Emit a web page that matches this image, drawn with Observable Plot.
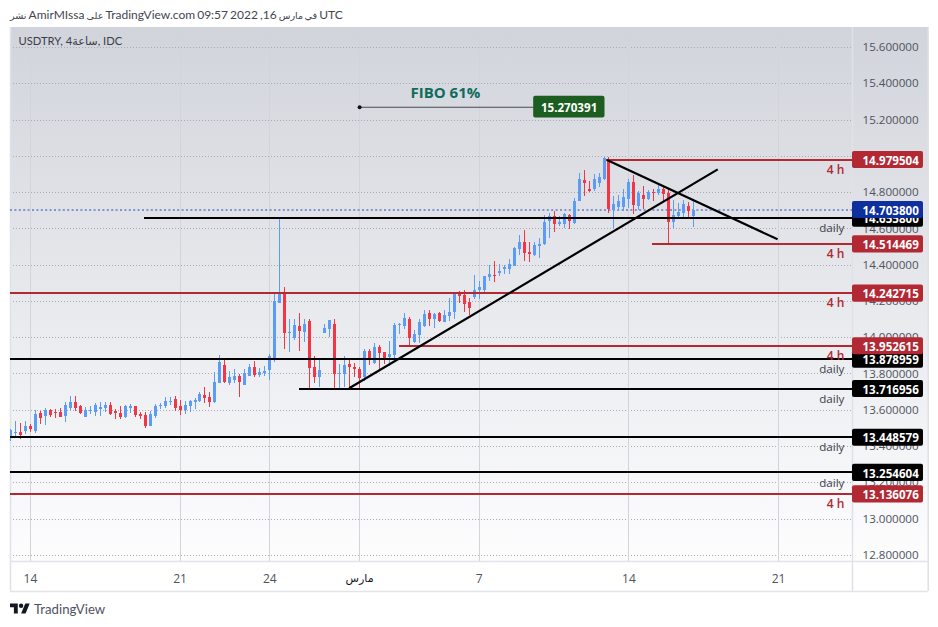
<!DOCTYPE html>
<html><head><meta charset="utf-8">
<script src="https://cdn.jsdelivr.net/npm/d3@7"></script>
<script src="https://cdn.jsdelivr.net/npm/@observablehq/plot@0.6"></script>
<style>
html,body{margin:0;padding:0;background:#fff;width:938px;height:627px;overflow:hidden;font-family:"Open Sans","DejaVu Sans",sans-serif}
#title{height:27px;line-height:29px;padding-left:10px;font-family:Lato,"DejaVu Sans",sans-serif;font-size:12px;word-spacing:-1px;color:#434651;white-space:nowrap;box-sizing:border-box}
#title span{font-size:9.6px}
#chart svg{display:block}
#foot{height:36px;padding-left:10px;display:flex;align-items:center;gap:4px;font-family:Lato,sans-serif;font-size:13.2px;color:#50535e}
</style></head><body>
<div id="title"><span>نشر</span> AmirMIssa <span>على</span> TradingView.com 09:57 2022 ,16 <span>في مارس</span> UTC</div>
<div id="chart"></div>
<div id="foot"><svg width="20" height="16" viewBox="0 0 36 28"><path fill="#131722" d="M14 22H7V11H0V4h14v18zM28 22h-8l7.5-18h8L28 22z"/><circle fill="#131722" cx="20" cy="8" r="4"/></svg><span>TradingView</span></div>
<script>
const firstIndex = -4;
const opens = [
13.453,13.473,13.479,13.485,13.512,13.485,13.584,13.567,13.600,13.589,13.589,13.567,13.611,13.644,13.622,13.562,13.595,13.589,13.606,13.611,
13.628,13.595,13.584,13.562,13.611,13.622,13.578,13.573,13.512,13.567,13.622,13.622,13.644,13.661,13.622,13.600,13.622,13.644,13.650,13.683,
13.672,13.644,13.749,13.848,13.749,13.766,13.788,13.738,13.788,13.837,13.793,13.804,13.821,
13.885,14.191,14.250,14.024,13.996,14.063,14.029,14.090,13.837,13.782,14.024,14.046,14.074,13.798,13.798,13.853,13.837,13.826,13.782,13.925,
13.859,13.947,13.919,13.892,13.903,14.068,14.063,14.101,13.974,14.013,14.063,14.134,14.101,14.134,14.085,14.118,14.140,14.250,14.233,14.195,
14.222,14.261,14.261,14.333,14.344,14.355,14.377,14.377,14.393,14.487,14.525,14.470,14.454,14.503,14.514,14.641,14.669,14.625,14.625,14.674,
14.630,14.751,14.867,14.818,14.818,14.851,14.873,14.983,14.702,14.718,14.718,14.762,14.856,14.724,14.785,14.762,14.801,14.796,14.818,14.796,
14.636,14.669,14.685,14.724,14.669];
const highs = [
13.494,13.536,13.527,13.540,13.523,13.600,13.595,13.611,13.606,13.606,13.611,13.644,13.677,13.677,13.628,13.617,13.622,13.639,13.644,13.644,
13.644,13.606,13.622,13.628,13.633,13.622,13.589,13.589,13.595,13.633,13.639,13.672,13.672,13.677,13.655,13.650,13.655,13.666,13.699,13.727,
13.699,13.810,13.903,13.881,13.815,13.826,13.799,13.826,13.854,13.870,13.832,13.843,13.909,
14.239,14.658,14.276,14.101,14.101,14.134,14.101,14.101,13.897,13.875,14.074,14.096,14.101,13.853,13.897,13.886,13.859,13.837,13.936,13.936,
13.969,13.958,13.919,13.980,14.079,14.079,14.134,14.112,14.040,14.101,14.151,14.151,14.134,14.140,14.151,14.217,14.244,14.255,14.261,14.217,
14.344,14.310,14.338,14.399,14.421,14.404,14.399,14.432,14.498,14.564,14.592,14.525,14.525,14.547,14.674,14.685,14.696,14.669,14.685,14.680,
14.768,14.906,14.922,14.862,14.900,14.906,14.994,14.994,14.779,14.785,14.818,14.873,14.895,14.807,14.834,14.812,14.818,14.840,14.834,14.818,
14.757,14.740,14.757,14.746,14.762];
const lows = [
13.426,13.453,13.440,13.468,13.479,13.473,13.523,13.518,13.562,13.556,13.562,13.534,13.600,13.595,13.578,13.562,13.578,13.567,13.567,13.589,
13.573,13.551,13.551,13.556,13.584,13.562,13.551,13.501,13.512,13.556,13.606,13.611,13.628,13.595,13.573,13.578,13.589,13.606,13.644,13.639,
13.617,13.639,13.749,13.749,13.738,13.749,13.672,13.738,13.788,13.782,13.782,13.788,13.766,
13.861,14.187,13.936,13.919,13.985,13.925,13.974,13.715,13.749,13.727,14.024,14.002,13.715,13.715,13.727,13.721,13.782,13.721,13.760,13.848,
13.853,13.815,13.853,13.842,13.875,14.018,14.046,13.958,13.969,13.969,14.057,14.063,14.052,14.085,14.085,14.090,14.101,14.189,14.140,14.123,
14.211,14.211,14.239,14.311,14.305,14.338,14.349,14.349,14.393,14.454,14.421,14.415,14.448,14.437,14.509,14.547,14.581,14.614,14.603,14.597,
14.625,14.751,14.779,14.801,14.807,14.829,14.867,14.685,14.603,14.696,14.696,14.713,14.680,14.702,14.707,14.757,14.751,14.785,14.751,14.509,
14.603,14.652,14.652,14.658,14.608];
const closes = [
13.486,13.479,13.459,13.512,13.496,13.578,13.556,13.600,13.573,13.584,13.562,13.628,13.644,13.611,13.584,13.600,13.600,13.628,13.617,13.628,
13.578,13.584,13.562,13.622,13.622,13.573,13.567,13.512,13.578,13.622,13.628,13.650,13.650,13.611,13.600,13.628,13.650,13.655,13.688,13.666,
13.644,13.755,13.865,13.755,13.782,13.788,13.755,13.804,13.837,13.793,13.810,13.815,13.898,
14.201,14.250,14.024,14.029,14.068,14.035,14.074,13.831,13.782,13.820,14.052,14.096,13.798,13.804,13.848,13.837,13.826,13.776,13.925,13.886,
13.947,13.914,13.886,13.908,14.068,14.074,14.107,13.996,14.018,14.085,14.129,14.101,14.129,14.090,14.123,14.140,14.244,14.228,14.184,14.162,
14.261,14.277,14.338,14.349,14.338,14.366,14.388,14.404,14.492,14.525,14.465,14.459,14.509,14.514,14.636,14.669,14.625,14.636,14.680,14.641,
14.751,14.873,14.851,14.807,14.873,14.884,14.988,14.707,14.735,14.751,14.773,14.856,14.729,14.796,14.762,14.801,14.796,14.818,14.790,14.636,
14.674,14.691,14.735,14.696,14.702];

const dayTicks = [0,30,48,90,120,150];
const dayLabels = ["14","21","24","7","14","21"];
const monthTick = [66];
const monthLabel = "مارس";
const allGrid = [0,30,48,66,90,120,150];
const priceTicks = [12.8,13.0,13.2,13.4,13.6,13.8,14.0,14.2,14.4,14.6,14.8,15.0,15.2,15.4,15.6];

const blackPrices = [14.6558,13.878959,13.716956,13.448579,13.254604];
const blackStarts = [22.8,-3.99,53.9,-3.99,-3.99];
const redPrices = [14.979504,14.514469,14.242715,13.952615,13.136076];
const redStarts = [115.6,124.8,-3.99,73.9,-3.99];
const lastPrice = 14.7038;
const fourHourAt = [14.979504,14.514469,14.242715,13.952615,13.136076];
const dailyAt = [14.6558,13.878959,13.716956,13.448579,13.254604];
const fiboPrice = 15.270391, fiboLabel = "FIBO 61%";
const trendUp = {x1:63.9,y1:13.721,x2:137.8,y2:14.928};
const trendDown = {x1:115.6,y1:14.98,x2:149.8,y2:14.542};

const X0=-3.99, X1=164.82, XBOX=179.05, XEND=180;
const RED="#b22833", BLACK="#000", BLUE="#0e2f9e", UP="#5b9cf6", DOWN="#f23645";
const BH=0.047;
const candles = opens.map((o,k)=>({i:k+firstIndex,o,h:highs[k],l:lows[k],c:closes[k]}));
const blackLv = blackPrices.map((v,k)=>({v,s:blackStarts[k]}));
const redLv = redPrices.map((v,k)=>({v,s:redStarts[k]}));
const font = '"Open Sans","DejaVu Sans",sans-serif';
const crisp = "crispEdges";

const boxes=(arr,fill)=>[
  Plot.rect(arr,{x1:X1,x2:XBOX,y1:d=>d-BH,y2:d=>d+BH,fill,rx:2}),
  Plot.text(arr,{x:X1+2,y:d=>d,dy:1,text:d=>d.toFixed(6),textAnchor:"start",fill:"#fff",fontSize:11.6,fontWeight:700,fontFamily:font})
];

const chart = Plot.plot({
  width:938,height:564,marginTop:0,marginLeft:10,marginRight:86,marginBottom:30,
  style:{background:"linear-gradient(#d1d4db,#fdfdfe) 10px 0/918px 534px no-repeat",fontFamily:font,overflow:"visible"},
  x:{domain:[X0,X1],axis:null},
  y:{domain:[12.766,15.710],axis:null},
  marks:[
    Plot.ruleY(priceTicks,{x1:X0,x2:X1,stroke:"#a9abb2",strokeWidth:1,strokeDasharray:"1,2",shapeRendering:crisp}),
    Plot.ruleX(allGrid,{y1:12.766,y2:15.710,stroke:"#d2d4dc",strokeWidth:1,shapeRendering:crisp}),
    Plot.ruleX([X0,X1,XEND],{y1:12.601,y2:15.710,stroke:"#dfe1e8",strokeWidth:1.5}),
    Plot.ruleY([12.766,12.601],{x1:X0,x2:XEND,stroke:"#e2e4ea",strokeWidth:1.5}),
    Plot.axisY(priceTicks,{anchor:"right",tickSize:0,tickPadding:10,tickFormat:d=>d.toFixed(6),label:null,fontSize:11.6,fill:"#50535e",textAnchor:"start",fontFamily:font}),
    Plot.axisX(dayTicks,{anchor:"bottom",tickSize:0,tickPadding:13,tickFormat:(d)=>dayLabels[dayTicks.indexOf(d)],label:null,fontSize:12,fill:"#50535e",fontFamily:font}),
    Plot.axisX(monthTick,{anchor:"bottom",tickSize:0,tickPadding:13,tickFormat:()=>monthLabel,label:null,fontSize:11,fontWeight:400,fill:"#131722",fontFamily:font}),
    Plot.ruleY([lastPrice],{x1:X0,x2:X1,stroke:"#5f7cc8",strokeWidth:1.6,strokeDasharray:"2,2.4"}),
    Plot.ruleX(candles,{x:"i",y1:"l",y2:"h",stroke:d=>d.c>=d.o?UP:DOWN,strokeWidth:1,clip:true,shapeRendering:crisp}),
    Plot.ruleX(candles,{x:"i",y1:"o",y2:"c",stroke:d=>d.c>=d.o?UP:DOWN,strokeWidth:3,clip:true,shapeRendering:crisp}),
    Plot.ruleY(blackLv,{y:"v",x1:"s",x2:X1,dy:-0.5,stroke:BLACK,strokeWidth:2,shapeRendering:crisp}),
    Plot.ruleY(redLv,{y:"v",x1:"s",x2:X1,dy:-0.5,stroke:RED,strokeWidth:2,shapeRendering:crisp}),
    Plot.link([trendUp,trendDown],{x1:"x1",y1:"y1",x2:"x2",y2:"y2",stroke:BLACK,strokeWidth:2.2}),
    Plot.ruleY([fiboPrice],{x1:66,x2:101,stroke:"#4a4a4a",strokeWidth:1.2}),
    Plot.dot([fiboPrice],{x:66,y:d=>d,r:2,fill:"#111"}),
    Plot.rect([fiboPrice],{x1:100.9,x2:115.2,y1:d=>d-0.06,y2:d=>d+0.06,fill:"#1b5e20",rx:2}),
    Plot.text([fiboPrice],{x:108,y:d=>d,dy:1,text:d=>d.toFixed(6),fill:"#fff",fontSize:11.6,fontWeight:700}),
    Plot.text([fiboLabel],{x:83.2,y:15.346,text:d=>d,fill:"#0f6b5c",fontSize:15,fontWeight:700}),
    Plot.text(fourHourAt,{x:163.2,y:d=>d,dy:10,text:()=>"4 h",textAnchor:"end",fill:RED,fontSize:12,fontWeight:600}),
    Plot.text(dailyAt,{x:163.2,y:d=>d,dy:10,text:()=>"daily",textAnchor:"end",fill:"#3a3d47",fontSize:11.6}),
    ...boxes(blackPrices,BLACK),
    ...boxes(redPrices,RED),
    ...boxes([lastPrice],BLUE),
    Plot.text(["USDTRY, 4ساعة, IDC"],{frameAnchor:"top-left",dx:8,dy:10,text:d=>d,textAnchor:"start",lineAnchor:"top",fill:"#3a3d47",fontSize:11.2,fontFamily:'Lato,"DejaVu Sans",sans-serif'})
  ]
});
document.getElementById("chart").appendChild(chart);
</script></body></html>
